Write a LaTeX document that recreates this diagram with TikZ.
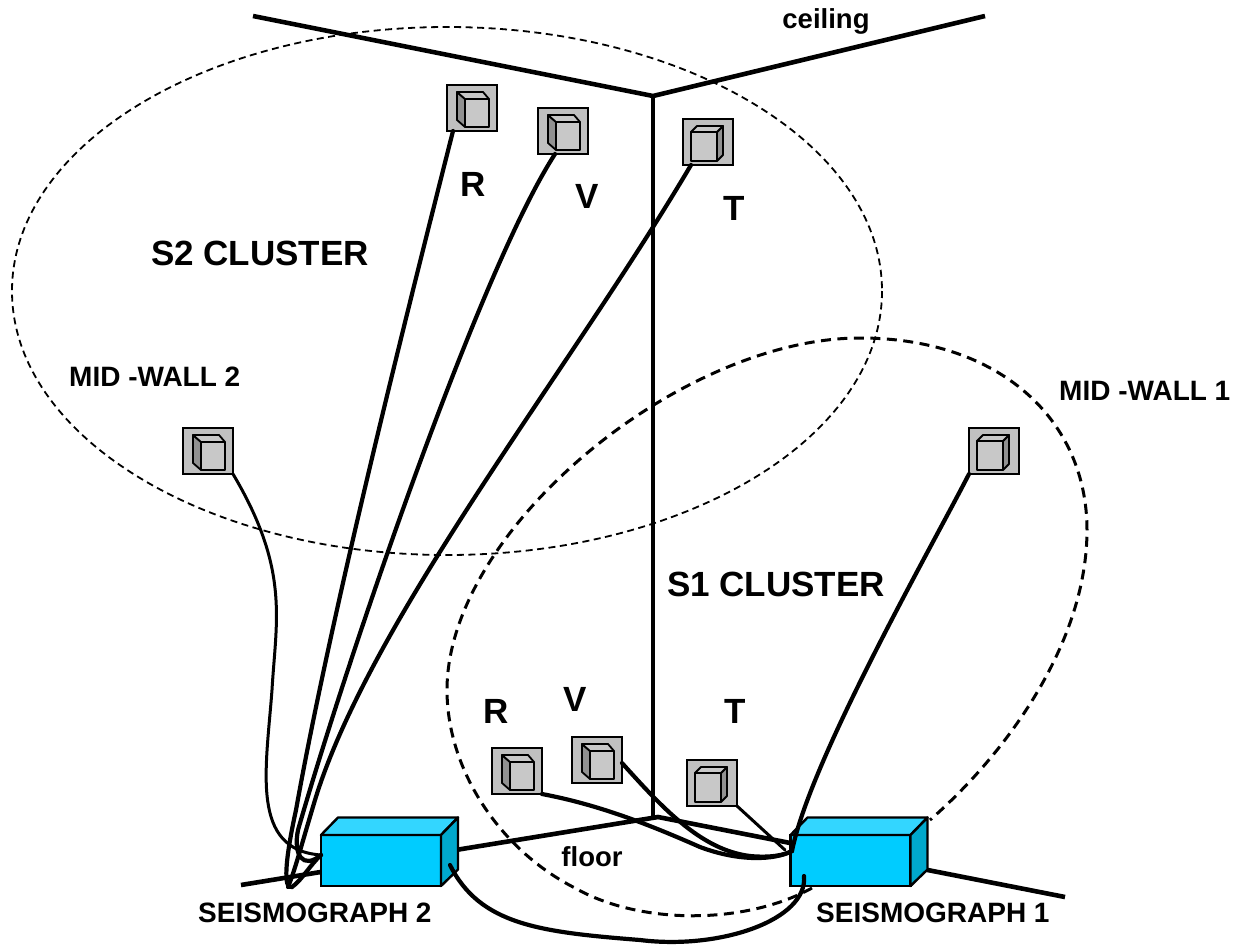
\documentclass[tikz,border=0pt]{standalone}
\usepackage{fontspec}
\setmainfont{Liberation Sans}
\usetikzlibrary{calc}
\definecolor{boxfill}{RGB}{192,192,192}
\definecolor{facefill}{RGB}{200,200,200}
\definecolor{sidefill}{RGB}{145,145,145}
\definecolor{cyanfront}{RGB}{0,204,255}
\definecolor{cyantop}{RGB}{51,214,255}
\definecolor{cyanside}{RGB}{0,168,204}
\tikzset{
 sensorbox/.style={draw=black,line width=2pt,fill=boxfill,minimum width=50pt,minimum height=46pt,inner sep=0pt,outer sep=0pt},
 cube/.style={draw=black,line width=1.8pt,line join=round},
 wall/.style={line width=4.6pt,black},
 cable/.style={line width=4.2pt,black,line cap=round},
 thincable/.style={line width=3pt,black,line cap=round},
 clusterthin/.style={line width=1.8pt,dash pattern=on 7pt off 4.5pt},
 clusterthick/.style={line width=3pt,dash pattern=on 10pt off 6.5pt},
 lab/.style={font=\bfseries\fontsize{27.5}{30}\selectfont,inner sep=0pt},
 bigcl/.style={font=\bfseries\fontsize{35}{38}\selectfont,inner sep=0pt},
 letter/.style={font=\bfseries\fontsize{35}{38}\selectfont,inner sep=0pt},
 small/.style={font=\bfseries\fontsize{28}{30}\selectfont,inner sep=0pt},
 seis/.style={draw=black,line width=2.4pt,fill=cyanfront,minimum width=120pt,minimum height=51pt,inner sep=0pt,outer sep=0pt},
}
% sensor with shaded face on the left
\newcommand{\sensorL}[3]{%
 \node[sensorbox] (#1) at (#2,#3) {};
 \begin{scope}[shift={(#2,#3)}]
  \draw[cube,fill=sidefill] (-15,-16)--(-7,-9)--(-7,19)--(-15,12)--cycle;
  \draw[cube,fill=facefill] (-15,-16)--(11,-16)--(17,-9)--(-7,-9)--cycle;
  \draw[cube,fill=facefill] (-7,-9) rectangle (17,19);
 \end{scope}}
% sensor with shaded face on the right
\newcommand{\sensorR}[3]{%
 \node[sensorbox] (#1) at (#2,#3) {};
 \begin{scope}[shift={(#2,#3)}]
  \draw[cube,fill=sidefill] (15,-16)--(9,-10)--(9,19)--(15,13)--cycle;
  \draw[cube,fill=facefill] (-11,-16)--(15,-16)--(9,-10)--(-17,-10)--cycle;
  \draw[cube,fill=facefill] (-17,-10) rectangle (9,19);
 \end{scope}}
\newcommand{\seismo}[3]{%
 \node[seis] (#1) at (#2,#3) {};
 \begin{scope}[shift={(#2,#3)}]
  \draw[line width=2.4pt,line join=round,fill=cyantop] (-60,-25.5)--(-43,-43)--(77,-43)--(60,-25.5)--cycle;
  \draw[line width=2.4pt,line join=round,fill=cyanside] (60,-25.5)--(77,-43)--(77,9)--(60,25.5)--cycle;
 \end{scope}}
\begin{document}
\begin{tikzpicture}[x=1pt,y=-1pt]
\useasboundingbox (0,0) rectangle (1240,948);
% walls
\coordinate (ceilL) at (253,16);
\coordinate (ceilM) at (653,96);
\coordinate (ceilR) at (985,16);
\coordinate (vertB) at (653,818);
\coordinate (floorM) at (658,817);
\coordinate (floorL) at (241,885);
\coordinate (floorR) at (1065,897);
\draw[wall,line join=miter] (ceilL)--(ceilM)--(ceilR);
\draw[wall] (ceilM)--(vertB);
\draw[wall] (floorL)--(floorM)--(floorR);
% clusters
\draw[clusterthin] (447,291) ellipse [x radius=435,y radius=264];
\draw[clusterthick] (812,888) .. controls (745,925) and (640,925) .. (575,888)
  .. controls (500,850) and (447,770) .. (447,690)
  .. controls (447,530) and (680,338) .. (860,338)
  .. controls (1000,338) and (1087,420) .. (1087,530)
  .. controls (1087,640) and (1010,750) .. (930,820);
% sensors
\sensorL{s2r}{472}{108}
\sensorL{s2v}{563}{131}
\sensorR{s2t}{708}{142}
\sensorL{s2m}{208}{451}
\sensorR{s1m}{994}{451}
\sensorL{s1r}{517}{771}
\sensorL{s1v}{597}{760}
\sensorR{s1t}{712}{783}
% seismographs
\seismo{sg2}{381}{860.5}
\seismo{sg1}{850.5}{860.5}
% cables to seismograph 2
\coordinate (a2) at (321,855);
\draw[cable] (s2r.south west)++(6,0) .. controls (400,340) and (330,620) .. (296,810)
  .. controls (285,860) and (283,890) .. (292,887) .. controls (302,880) and (310,865) .. (a2);
\draw[cable] (s2v.south west)++(17,0) .. controls (480,270) and (350,650) .. (298,830)
  .. controls (293,855) and (303,870) .. (a2);
\draw[cable] (s2t.south west)++(8,0) .. controls (570,370) and (370,620) .. (315,800)
  .. controls (300,850) and (295,870) .. (288,887);
\draw[thincable] (s2m.south east) .. controls (290,570) and (276,620) .. (272,690)
  .. controls (266,770) and (250,850) .. (a2);
% cables to seismograph 1
\coordinate (a1) at (792,851);
\draw[cable] (s1m.south west) .. controls (930,550) and (810,760) .. (a1);
\draw[cable] (s1r.south east) .. controls (600,805) and (650,825) .. (700,847)
  .. controls (740,862) and (775,860) .. (a1);
\draw[cable] (s1v.south east)++(0,-20) .. controls (660,805) and (700,850) .. (750,856) .. controls (770,858) and (785,855) .. (a1);
\draw[thincable] (s1t.south east) -- (785,850);
% cable between seismographs
\draw[cable] (450,865) .. controls (480,925) and (540,932) .. (640,940)
  .. controls (720,950) and (808,920) .. (804,876);
% labels
\node[lab,anchor=base] (ceil) at (826,28) {ceiling};
\node[bigcl,anchor=base west] (s2c) at (151,265) {S2 CLUSTER};
\node[bigcl,anchor=base west] (s1c) at (667,596) {S1 CLUSTER};
\node[letter,anchor=base] (r2) at (473,196) {R};
\node[letter,anchor=base] (v2) at (587,208) {V};
\node[letter,anchor=base] (t2) at (734,220) {T};
\node[letter,anchor=base] (r1) at (496,723) {R};
\node[letter,anchor=base] (v1) at (575,711) {V};
\node[letter,anchor=base] (t1) at (735,723) {T};
\node[small,anchor=base west] (mw2) at (69,386) {MID -WALL 2};
\node[small,anchor=base west] (mw1) at (1059,400) {MID -WALL 1};
\node[lab,anchor=base] (fl) at (592,866) {floor};
\node[small,anchor=base west] (sl2) at (198,922) {SEISMOGRAPH 2};
\node[small,anchor=base west] (sl1) at (816,922) {SEISMOGRAPH 1};
\end{tikzpicture}
\end{document}
